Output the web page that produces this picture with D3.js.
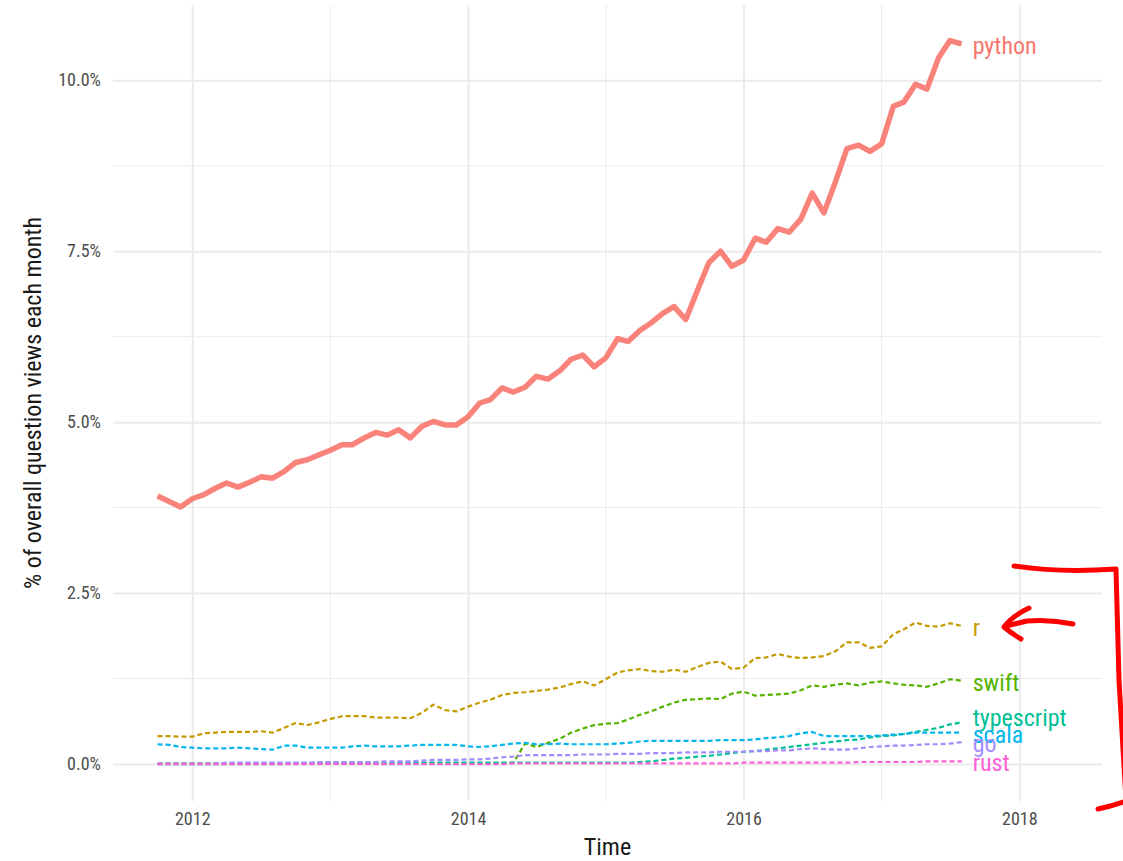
<!DOCTYPE html>
<html>
<head>
<meta charset="utf-8">
<script src="https://cdn.jsdelivr.net/npm/d3@7"></script>
<style>
body { margin: 0; background: #ffffff; }
</style>
</head>
<body>
<script>
// Donnees : un point par mois, d'octobre 2011 a aout 2017
var months = d3.timeMonth.range(new Date(2011, 9, 1), new Date(2017, 8, 1))

var languages = ['python', 'r', 'swift', 'typescript', 'scala', 'go', 'rust']

var python = [3.92, 3.84, 3.76, 3.88, 3.94, 4.03, 4.11, 4.05, 4.12, 4.20,
    4.18, 4.28, 4.41, 4.45, 4.52, 4.59, 4.67, 4.67, 4.77, 4.85,
    4.81, 4.89, 4.77, 4.94, 5.01, 4.96, 4.96, 5.08, 5.28, 5.33,
    5.50, 5.44, 5.51, 5.67, 5.63, 5.75, 5.92, 5.98, 5.81, 5.94,
    6.22, 6.18, 6.34, 6.45, 6.59, 6.69, 6.50, 6.93, 7.33, 7.50,
    7.28, 7.37, 7.69, 7.63, 7.83, 7.78, 7.97, 8.35, 8.06, 8.52,
    9.00, 9.05, 8.96, 9.07, 9.62, 9.68, 9.94, 9.87, 10.33, 10.58,
    10.53]

var r = [0.41, 0.41, 0.40, 0.40, 0.45, 0.46, 0.47, 0.47, 0.47, 0.48,
    0.46, 0.53, 0.60, 0.57, 0.61, 0.66, 0.70, 0.70, 0.70, 0.68,
    0.68, 0.68, 0.67, 0.75, 0.87, 0.79, 0.77, 0.84, 0.90, 0.94,
    1.01, 1.04, 1.05, 1.07, 1.09, 1.12, 1.17, 1.21, 1.15, 1.24,
    1.34, 1.37, 1.39, 1.36, 1.35, 1.38, 1.35, 1.42, 1.48, 1.50,
    1.39, 1.41, 1.55, 1.56, 1.61, 1.57, 1.55, 1.56, 1.58, 1.65,
    1.78, 1.78, 1.70, 1.72, 1.90, 1.97, 2.07, 2.02, 2.01, 2.06,
    2.02]

var swift = [0.01, 0.01, 0.01, 0.01, 0.01, 0.01, 0.01, 0.01, 0.01, 0.01,
    0.01, 0.01, 0.01, 0.01, 0.01, 0.01, 0.01, 0.01, 0.01, 0.01,
    0.01, 0.01, 0.01, 0.01, 0.01, 0.01, 0.01, 0.01, 0.01, 0.01,
    0.01, 0.02, 0.30, 0.25, 0.31, 0.37, 0.46, 0.52, 0.57, 0.59,
    0.60, 0.65, 0.72, 0.77, 0.84, 0.90, 0.94, 0.95, 0.96, 0.95,
    1.03, 1.06, 1.00, 1.01, 1.02, 1.03, 1.08, 1.15, 1.13, 1.16,
    1.18, 1.15, 1.19, 1.21, 1.18, 1.16, 1.15, 1.13, 1.18, 1.24,
    1.22]

var typescript = [0.00, 0.00, 0.00, 0.00, 0.00, 0.00, 0.00, 0.00, 0.00, 0.00,
    0.00, 0.00, 0.01, 0.01, 0.01, 0.01, 0.01, 0.01, 0.01, 0.01,
    0.01, 0.02, 0.02, 0.02, 0.02, 0.02, 0.02, 0.02, 0.02, 0.02,
    0.02, 0.02, 0.02, 0.02, 0.02, 0.02, 0.02, 0.02, 0.02, 0.02,
    0.02, 0.02, 0.03, 0.04, 0.06, 0.08, 0.09, 0.11, 0.12, 0.14,
    0.16, 0.18, 0.19, 0.21, 0.23, 0.25, 0.27, 0.29, 0.31, 0.33,
    0.35, 0.36, 0.39, 0.41, 0.42, 0.44, 0.47, 0.50, 0.53, 0.58,
    0.61]

var scala = [0.29, 0.28, 0.25, 0.24, 0.23, 0.23, 0.23, 0.24, 0.23, 0.22,
    0.21, 0.27, 0.27, 0.24, 0.24, 0.24, 0.24, 0.26, 0.27, 0.26,
    0.26, 0.26, 0.27, 0.28, 0.28, 0.28, 0.28, 0.26, 0.25, 0.26,
    0.28, 0.30, 0.31, 0.29, 0.29, 0.30, 0.29, 0.29, 0.29, 0.29,
    0.30, 0.31, 0.33, 0.34, 0.34, 0.34, 0.34, 0.34, 0.34, 0.35,
    0.35, 0.35, 0.36, 0.38, 0.39, 0.41, 0.45, 0.47, 0.41, 0.41,
    0.41, 0.41, 0.41, 0.42, 0.43, 0.44, 0.46, 0.46, 0.46, 0.46,
    0.46]

var go = [0.01, 0.01, 0.01, 0.01, 0.01, 0.01, 0.02, 0.02, 0.02, 0.02,
    0.02, 0.02, 0.02, 0.02, 0.03, 0.03, 0.03, 0.03, 0.03, 0.03,
    0.04, 0.04, 0.04, 0.05, 0.06, 0.06, 0.06, 0.07, 0.07, 0.08,
    0.10, 0.11, 0.13, 0.13, 0.13, 0.13, 0.13, 0.14, 0.14, 0.14,
    0.15, 0.15, 0.15, 0.16, 0.16, 0.16, 0.17, 0.17, 0.17, 0.18,
    0.18, 0.18, 0.19, 0.19, 0.20, 0.20, 0.22, 0.23, 0.22, 0.21,
    0.21, 0.23, 0.25, 0.26, 0.27, 0.27, 0.28, 0.29, 0.29, 0.30,
    0.32]

var rust = [0.00, 0.00, 0.00, 0.00, 0.00, 0.00, 0.00, 0.00, 0.00, 0.00,
    0.00, 0.00, 0.00, 0.00, 0.00, 0.00, 0.00, 0.00, 0.00, 0.00,
    0.00, 0.00, 0.00, 0.00, 0.00, 0.00, 0.00, 0.00, 0.00, 0.00,
    0.00, 0.01, 0.01, 0.01, 0.01, 0.01, 0.01, 0.01, 0.01, 0.01,
    0.01, 0.01, 0.01, 0.01, 0.01, 0.01, 0.01, 0.01, 0.01, 0.01,
    0.01, 0.02, 0.02, 0.02, 0.02, 0.02, 0.02, 0.02, 0.02, 0.02,
    0.02, 0.03, 0.03, 0.03, 0.03, 0.03, 0.03, 0.04, 0.04, 0.04,
    0.04]

var yTicks = [0, 2.5, 5, 7.5, 10]
var yMinorTicks = [1.25, 3.75, 6.25, 8.75]
var xTicks = [2012, 2014, 2016, 2018]
var xMinorTicks = [2013, 2015, 2017]

// Couleurs et dimensions
var colours = {
    python: '#F8766D',
    r: '#C49A00',
    swift: '#53B400',
    typescript: '#00C094',
    scala: '#00B6EB',
    go: '#A58AFF',
    rust: '#FB61D7',
    grid: '#EBEBEB',
    tick: '#4D4D4D',
    title: '#1a1a1a',
    pen: '#FF0000'
}

var font = "'Roboto Condensed', 'Liberation Sans Narrow', 'DejaVu Sans Condensed', Roboto, sans-serif"

var width = 1123
var height = 861
var panel = { left: 113, right: 1102, top: 5, bottom: 801 }

// petit decalage vertical des etiquettes (evite le chevauchement, comme l'original)
var labelNudge = { typescript: -6 }

var seriesValues = {
    python: python, r: r, swift: swift, typescript: typescript,
    scala: scala, go: go, rust: rust
}

var series = languages.map(name => ({
    name: name,
    points: months.map((m, i) => ({ date: m, value: seriesValues[name][i] }))
}))

// Echelles
var x = d3.scaleTime()
    .domain([new Date(2011, 5, 5), new Date(2018, 7, 8)])
    .range([panel.left, panel.right])

var y = d3.scaleLinear()
    .domain([-0.54, 11.1])
    .range([panel.bottom, panel.top])

var yearDate = yr => new Date(yr, 0, 1)

var svg = d3.select('body').append('svg')
    .attr('width', width)
    .attr('height', height)
    .attr('font-family', font)
    .style('font-stretch', 'condensed')

// Grille mineure puis majeure
var grid = svg.append('g')

grid.selectAll('.hminor').data(yMinorTicks).join('line')
    .attr('x1', panel.left).attr('x2', panel.right)
    .attr('y1', d => y(d)).attr('y2', d => y(d))
    .attr('stroke', colours.grid).attr('stroke-width', 1)

grid.selectAll('.vminor').data(xMinorTicks).join('line')
    .attr('x1', d => x(yearDate(d))).attr('x2', d => x(yearDate(d)))
    .attr('y1', panel.top).attr('y2', panel.bottom)
    .attr('stroke', colours.grid).attr('stroke-width', 1)

var yAxis = svg.append('g')
    .attr('transform', `translate(${panel.left},0)`)
    .call(d3.axisLeft(y)
        .tickValues(yTicks)
        .tickSize(-(panel.right - panel.left))
        .tickPadding(12)
        .tickFormat(d => d3.format('.1f')(d) + '%'))

var xAxis = svg.append('g')
    .attr('transform', `translate(0,${panel.bottom})`)
    .call(d3.axisBottom(x)
        .tickValues(xTicks.map(yearDate))
        .tickSize(-(panel.bottom - panel.top))
        .tickPadding(11)
        .tickFormat(d3.timeFormat('%Y')))

svg.selectAll('.domain').remove()
svg.selectAll('.tick line')
    .attr('stroke', colours.grid)
    .attr('stroke-width', 2)
svg.selectAll('.tick text')
    .attr('fill', colours.tick)
    .attr('font-family', font)
    .attr('font-size', '18px')

// Lignes
var line = d3.line()
    .x(d => x(d.date))
    .y(d => y(d.value))

svg.append('g')
    .selectAll('path')
    .data(series)
    .join('path')
    .attr('d', d => line(d.points))
    .attr('fill', 'none')
    .attr('stroke', d => colours[d.name])
    .attr('stroke-opacity', d => d.name === 'python' ? 0.9 : 1)
    .attr('stroke-width', d => d.name === 'python' ? 5.5 : 2.2)
    .attr('stroke-dasharray', d => d.name === 'python' ? null : '5,3')
    .attr('stroke-linejoin', 'round')

// Etiquettes en bout de ligne
svg.append('g')
    .selectAll('text')
    .data(series)
    .join('text')
    .attr('x', d => x(d.points[d.points.length - 1].date) + 11)
    .attr('y', d => y(d.points[d.points.length - 1].value) + (labelNudge[d.name] || 0))
    .attr('dy', '0.42em')
    .attr('fill', d => colours[d.name])
    .attr('font-size', '24px')
    .text(d => d.name)

// Titres des axes
svg.append('text')
    .attr('x', (panel.left + panel.right) / 2)
    .attr('y', 855)
    .attr('text-anchor', 'middle')
    .attr('fill', colours.title)
    .attr('font-size', '24px')
    .text('Time')

svg.append('text')
    .attr('transform', `translate(41,${(panel.top + panel.bottom) / 2}) rotate(-90)`)
    .attr('text-anchor', 'middle')
    .attr('fill', colours.title)
    .attr('font-size', '24px')
    .text('% of overall question views each month')

// Annotation au feutre rouge
var pen = svg.append('g')
    .attr('fill', 'none')
    .attr('stroke', colours.pen)
    .attr('stroke-width', 5)
    .attr('stroke-linecap', 'round')
    .attr('stroke-linejoin', 'round')

pen.append('path').attr('d', 'M1014,566 Q1060,573 1116,569 L1119,680 L1126,800')
pen.append('path').attr('d', 'M1098,809 Q1112,806 1126,801')
pen.append('path').attr('d', 'M1073,624 Q1050,619 1027,621 L1006,626')
pen.append('path').attr('d', 'M1029,608 Q1012,616 1004,627 Q1011,633 1021,639')
</script>
</body>
</html>
